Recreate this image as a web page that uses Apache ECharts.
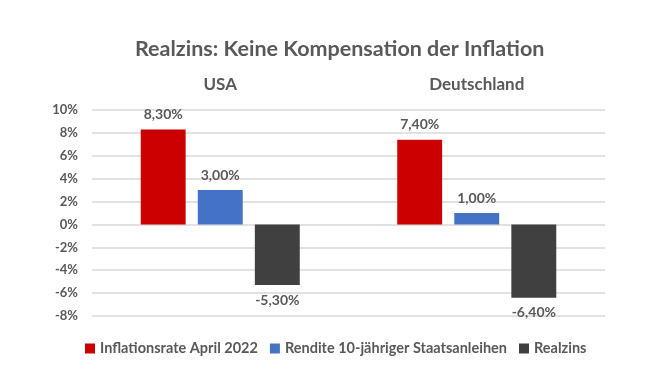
<!DOCTYPE html>
<html><head><meta charset="utf-8">
<script src="https://cdn.jsdelivr.net/npm/echarts@6/dist/echarts.min.js"></script>
<style>html,body{margin:0;padding:0;background:#fff}#c{width:645px;height:378px}</style>
</head><body><div id="c"></div>
<script>
const categories = ['USA', 'Deutschland'];
const seriesNames = ['Inflationsrate April 2022', 'Rendite 10-jähriger Staatsanleihen', 'Realzins'];
const inflation = [8.3, 7.4];
const rendite = [3.0, 1.0];
const realzins = [-5.3, -6.4];
const colors = ['#CC0000', '#4472C4', '#404040'];
const FONT = 'Lato';
const txt = '#595959';
const chart = echarts.init(document.getElementById('c'));
const fmt = v => v.toFixed(2).replace('.', ',') + '%';
const mk = (name, data, color) => ({
  name, type: 'bar', data, itemStyle: { color },
  barGap: '27%', barCategoryGap: '38%',
  label: {
    show: true, fontFamily: FONT, fontWeight: 'bold', fontSize: 14, color: txt, distance: 8,
    position: 'top',
    formatter: p => fmt(p.value)
  }
});
const s = [mk(seriesNames[0], inflation, colors[0]), mk(seriesNames[1], rendite, colors[1]), mk(seriesNames[2], realzins, colors[2])];
s[2].label.position = 'bottom';
chart.setOption({
  animation: false,
  textStyle: { fontFamily: FONT },
  title: { text: 'Realzins: Keine Kompensation der Inflation', left: 130, top: 33,
    textStyle: { fontFamily: FONT, fontWeight: 'bold', fontSize: 21.5, color: txt } },
  legend: { bottom: 17, left: 80, itemWidth: 10, itemHeight: 10, itemGap: 12, icon: 'rect',
    textStyle: { fontFamily: FONT, fontWeight: 'bold', fontSize: 14.5, color: txt } },
  grid: { left: 92, right: 40, top: 110, bottom: 62 },
  xAxis: { type: 'category', data: categories, position: 'top',
    axisLine: { show: false }, axisTick: { show: false },
    axisLabel: { fontFamily: FONT, fontWeight: 'bold', fontSize: 17, color: txt, margin: 17 } },
  yAxis: { type: 'value', min: -8, max: 10, interval: 2,
    axisLine: { show: false }, axisTick: { show: false },
    splitLine: { lineStyle: { color: '#D9D9D9', width: 1.5 } },
    axisLabel: { fontFamily: FONT, fontWeight: 'bold', fontSize: 13, color: txt, margin: 14, formatter: v => v + '%' } },
  series: s
});
</script></body></html>
